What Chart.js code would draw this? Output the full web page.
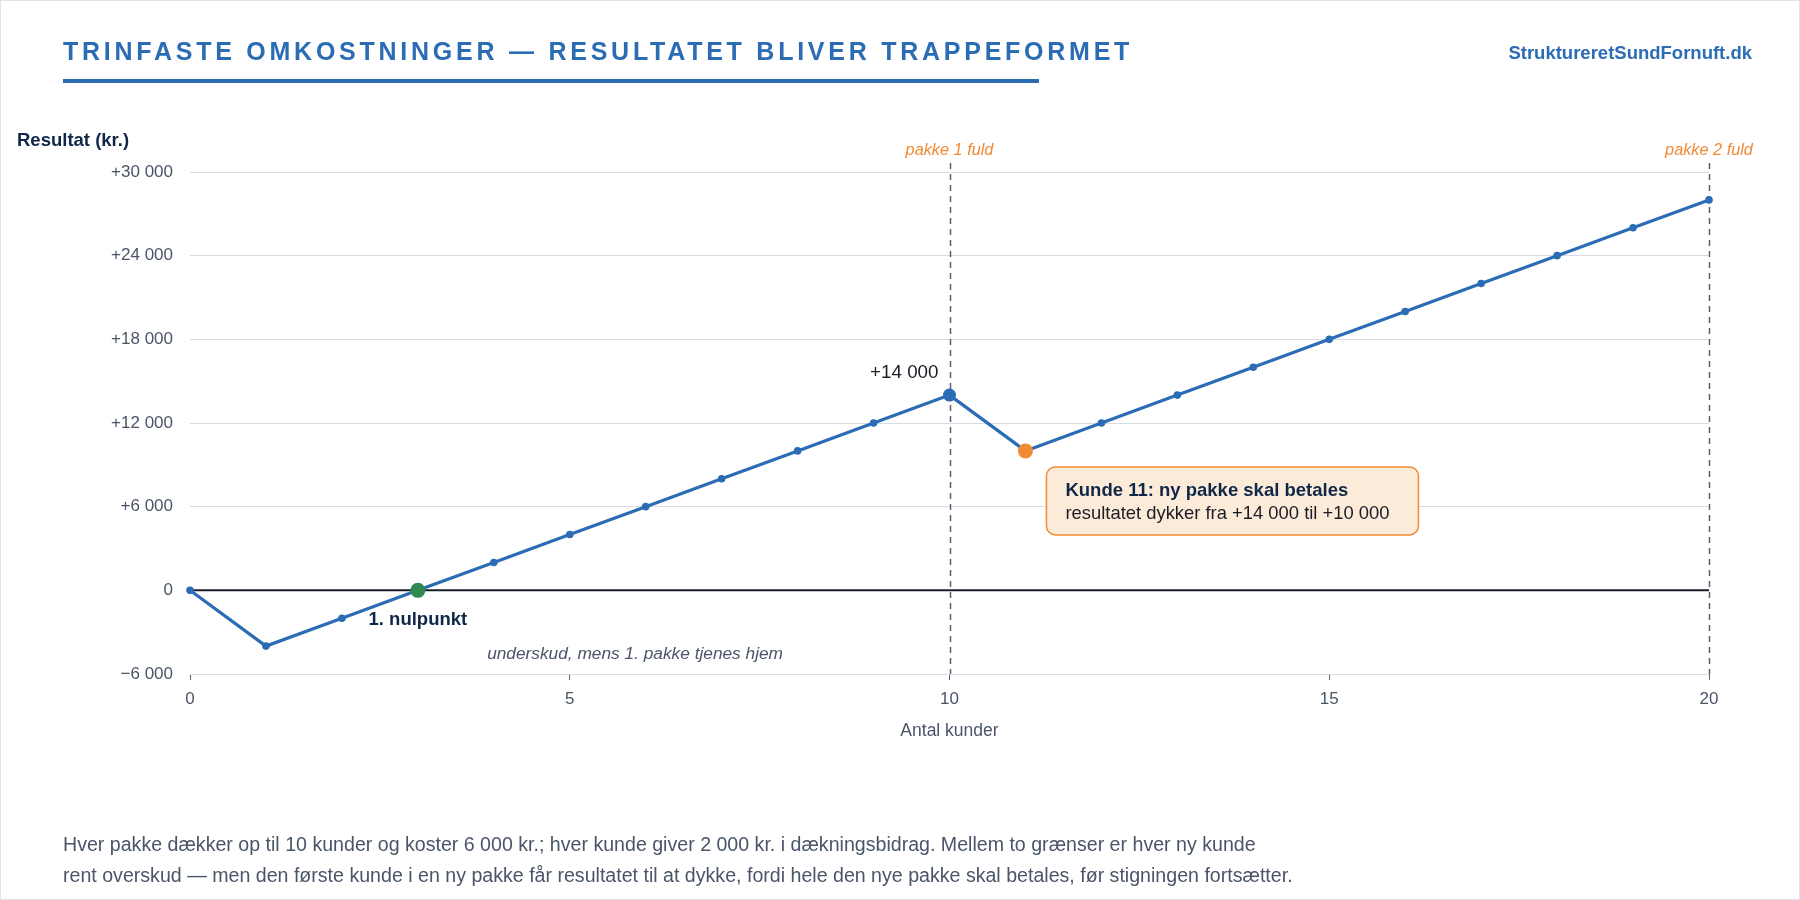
<!DOCTYPE html>
<html lang="da">
<head>
<meta charset="utf-8">
<title>Trinfaste omkostninger</title>
<script src="https://cdn.jsdelivr.net/npm/chart.js@4.4.1/dist/chart.umd.min.js"></script>
<style>
  html, body { margin: 0; padding: 0; background: #fff; }
  body { font-family: "Liberation Sans", Arial, Helvetica, sans-serif; }
  .page {
    position: relative; width: 1800px; height: 900px; box-sizing: border-box;
    border: 1px solid #dde3ea; overflow: hidden; background: #fff;
  }
  .page canvas { position: absolute; left: 0; top: 0; }
  .title {
    position: absolute; left: 62px; top: 36px; margin: 0;
    font-size: 25px; font-weight: bold; letter-spacing: 3.75px; color: #2b6cb5;
  }
  .rule { position: absolute; left: 62px; top: 78px; width: 976px; height: 4px; background: #2b6cb5; }
  .site {
    position: absolute; right: 47px; top: 41px;
    font-size: 18.5px; font-weight: bold; color: #2b6cb5;
  }
  .ylabel {
    position: absolute; left: 16px; top: 128px;
    font-size: 18.5px; font-weight: bold; color: #0f2748;
  }
  .note {
    position: absolute; left: 62px; top: 828px; margin: 0;
    font-size: 19.6px; line-height: 31px; color: #4a5568;
  }
</style>
</head>
<body>
<div class="page">
  <canvas id="chart" width="1800" height="900"></canvas>
  <h1 class="title">TRINFASTE OMKOSTNINGER — RESULTATET BLIVER TRAPPEFORMET</h1>
  <div class="rule"></div>
  <div class="site">StruktureretSundFornuft.dk</div>
  <div class="ylabel">Resultat (kr.)</div>
  <p class="note">Hver pakke dækker op til 10 kunder og koster 6 000 kr.; hver kunde giver 2 000 kr. i dækningsbidrag. Mellem to grænser er hver ny kunde<br>rent overskud — men den første kunde i en ny pakke får resultatet til at dykke, fordi hele den nye pakke skal betales, før stigningen fortsætter.</p>
</div>
<script>
// antal kunder og resultat (kr.)
const kunder = [0, 1, 2, 3, 4, 5, 6, 7, 8, 9, 10, 11, 12, 13, 14, 15, 16, 17, 18, 19, 20];
const resultat = [0, -4000, -2000, 0, 2000, 4000, 6000, 8000, 10000, 12000, 14000,
  10000, 12000, 14000, 16000, 18000, 20000, 22000, 24000, 26000, 28000];
const pakkeGraenser = [10, 20];
const pakkeLabels = ['pakke 1 fuld', 'pakke 2 fuld'];
const nulpunktIdx = 3;
const toppunktIdx = 10;
const dykIdx = 11;

const BLUE = '#2b6cb5';
const GREEN = '#2e8a50';
const ORANGE = '#f08a33';
const NAVY = '#0f2748';
const GREY_TXT = '#4a5568';
const FONT = '"Liberation Sans", Arial, Helvetica, sans-serif';

function tal(v) {
  const s = Math.abs(v).toString().replace(/\B(?=(\d{3})+(?!\d))/g, ' ');
  if (v > 0) return '+' + s;
  if (v < 0) return '\u2212' + s;
  return '0';
}

const pointRadius = kunder.map((k, i) => i === nulpunktIdx || i === dykIdx ? 7.5 : i === toppunktIdx ? 6.5 : 3.8);
const pointColor = kunder.map((k, i) => i === nulpunktIdx ? GREEN : i === dykIdx ? ORANGE : BLUE);

const annotations = {
  id: 'annotations',
  beforeDatasetsDraw(chart) {
    const { ctx, chartArea, scales: { x, y } } = chart;
    ctx.save();
    // nul-linje
    ctx.strokeStyle = '#1b1f2a';
    ctx.lineWidth = 2;
    ctx.beginPath();
    ctx.moveTo(x.getPixelForValue(kunder[0]), y.getPixelForValue(0));
    ctx.lineTo(x.getPixelForValue(kunder[kunder.length - 1]), y.getPixelForValue(0));
    ctx.stroke();
    // pakkegrænser
    ctx.strokeStyle = '#5a6070';
    ctx.lineWidth = 1.5;
    ctx.setLineDash([6, 5]);
    pakkeGraenser.forEach(g => {
      const px = Math.round(x.getPixelForValue(g)) + 0.5;
      ctx.beginPath();
      ctx.moveTo(px, chartArea.top - 9);
      ctx.lineTo(px, chartArea.bottom);
      ctx.stroke();
    });
    ctx.setLineDash([]);
    ctx.restore();
  },
  afterDatasetsDraw(chart) {
    const { ctx, chartArea, scales: { x, y } } = chart;
    ctx.save();
    ctx.textBaseline = 'middle';
    // pakke-labels
    ctx.font = 'italic 16.3px ' + FONT;
    ctx.fillStyle = ORANGE;
    ctx.textAlign = 'center';
    pakkeGraenser.forEach((g, i) => {
      ctx.fillText(pakkeLabels[i], x.getPixelForValue(g), chartArea.top - 22);
    });
    // toppunkt
    const tx = x.getPixelForValue(kunder[toppunktIdx]);
    const ty = y.getPixelForValue(resultat[toppunktIdx]);
    ctx.font = '18.8px ' + FONT;
    ctx.fillStyle = '#1a1d26';
    ctx.textAlign = 'right';
    ctx.fillText(tal(resultat[toppunktIdx]), tx - 11, ty - 22);
    // nulpunkt
    const nx = x.getPixelForValue(kunder[nulpunktIdx]);
    const ny = y.getPixelForValue(resultat[nulpunktIdx]);
    ctx.font = 'bold 18.5px ' + FONT;
    ctx.fillStyle = NAVY;
    ctx.textAlign = 'center';
    ctx.fillText('1. nulpunkt', nx, ny + 30);
    // underskud
    ctx.font = 'italic 17.3px ' + FONT;
    ctx.fillStyle = GREY_TXT;
    ctx.fillText('underskud, mens 1. pakke tjenes hjem', x.getPixelForValue(5.86), y.getPixelForValue(-4600));
    // boks ved kunde 11
    const dx = x.getPixelForValue(kunder[dykIdx]);
    const dy = y.getPixelForValue(resultat[dykIdx]);
    const bx = dx + 21, by = dy + 16, bw = 372, bh = 68;
    ctx.beginPath();
    ctx.roundRect(bx, by, bw, bh, 9);
    ctx.fillStyle = '#fdebd9';
    ctx.fill();
    ctx.strokeStyle = ORANGE;
    ctx.lineWidth = 1.5;
    ctx.stroke();
    ctx.textAlign = 'left';
    ctx.font = 'bold 18.5px ' + FONT;
    ctx.fillStyle = NAVY;
    ctx.fillText('Kunde 11: ny pakke skal betales', bx + 19, by + 24);
    ctx.font = '18.4px ' + FONT;
    ctx.fillStyle = '#1a1d26';
    ctx.fillText('resultatet dykker fra ' + tal(resultat[toppunktIdx]) + ' til ' + tal(resultat[dykIdx]), bx + 19, by + 47);
    ctx.restore();
  }
};

new Chart(document.getElementById('chart'), {
  type: 'line',
  data: {
    datasets: [{
      data: kunder.map((k, i) => ({ x: k, y: resultat[i] })),
      borderColor: BLUE,
      borderWidth: 3.2,
      pointRadius: pointRadius,
      pointBackgroundColor: pointColor,
      pointBorderColor: pointColor,
      pointBorderWidth: 0,
      tension: 0,
      clip: false
    }]
  },
  options: {
    responsive: false,
    animation: false,
    devicePixelRatio: 1,
    layout: { padding: { top: 171, right: 92, bottom: 141, left: 0 } },
    plugins: { legend: { display: false }, tooltip: { enabled: false } },
    scales: {
      x: {
        type: 'linear', min: 0, max: 20,
        border: { display: false },
        grid: { drawOnChartArea: false, drawTicks: true, tickLength: 6, color: '#5a6070' },
        ticks: { stepSize: 5, padding: 9, color: GREY_TXT, font: { size: 17, family: FONT } },
        title: { display: true, text: 'Antal kunder', color: GREY_TXT, font: { size: 17.5, family: FONT }, padding: { top: 0, bottom: 18 } },
        afterFit(scale) { scale.height = 86; }
      },
      y: {
        min: -6000, max: 30000,
        border: { display: false },
        grid: { color: '#d6dce4', drawTicks: false },
        ticks: { stepSize: 6000, padding: 17, color: GREY_TXT, font: { size: 17, family: FONT }, callback: v => tal(v) },
        afterFit(scale) { scale.width = 189; }
      }
    }
  },
  plugins: [annotations]
});
</script>
</body>
</html>
